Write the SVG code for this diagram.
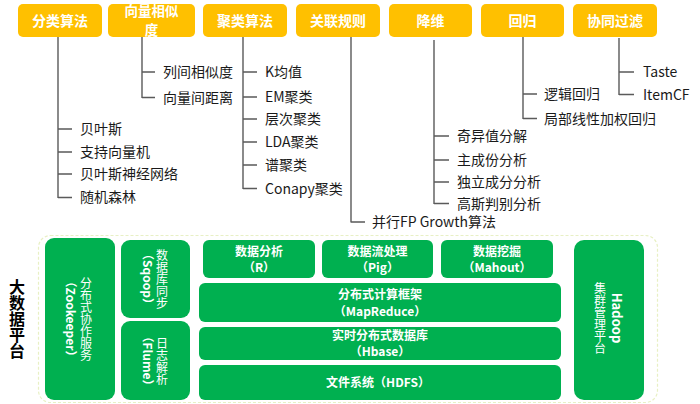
<svg xmlns="http://www.w3.org/2000/svg" width="700" height="404" viewBox="0 0 700 404">
<style>
text{font-family:"Noto Sans CJK SC","Microsoft YaHei","Noto Sans",sans-serif}
.hb{fill:#FFC000}
.ht{fill:#fff;font-size:14px;font-weight:bold;text-anchor:middle}
.ln{stroke:#5a5a5a;stroke-width:1.4;fill:none}
.it{fill:#1a1a1a;font-size:14px}
.gb{fill:#00B050}
.gt{fill:#fff;font-size:12px;font-weight:bold;text-anchor:middle}
.vt{fill:#fff;font-size:12px;writing-mode:vertical-rl;text-anchor:middle}
.lt{fill:#fff;font-size:12px;font-weight:bold;text-anchor:middle}
</style>
<rect width="700" height="404" fill="#fff"/>
<g id="connectors">
<path class="ln" d="M58 37V198M58 129H72M58 152H72M58 174H72M58 197.5H72"/>
<path class="ln" d="M142 37V98M142 72H155M142 97.5H155"/>
<path class="ln" d="M243 37V189M243 72H257M243 97H257M243 119H257M243 142H257M243 165H257M243 188.5H257"/>
<path class="ln" d="M351 37V222.5M351 222H365"/>
<path class="ln" d="M434 40V204M434 136H449M434 160H449M434 182H449M434 203.5H449"/>
<path class="ln" d="M523 37V119M523 94H537M523 118.5H537"/>
<path class="ln" d="M619 38V95M619 72H634M619 94.5H634"/>
</g>
<g id="h1"><rect class="hb" x="18" y="4" width="84" height="33" rx="5"/><text class="ht" x="60" y="25.5">分类算法</text></g>
<g id="h2"><rect class="hb" x="108" y="4" width="87" height="33" rx="5"/><text class="ht" x="151.5" y="16" style="font-size:13.5px">向量相似</text><text class="ht" x="151.5" y="35" style="font-size:13.5px">度</text></g>
<g id="h3"><rect class="hb" x="203" y="4" width="84" height="33" rx="5"/><text class="ht" x="245" y="25.5">聚类算法</text></g>
<g id="h4"><rect class="hb" x="296" y="4" width="84" height="33" rx="5"/><text class="ht" x="338" y="25.5">关联规则</text></g>
<g id="h5"><rect class="hb" x="389" y="4" width="83" height="33" rx="5"/><text class="ht" x="430.5" y="25.5">降维</text></g>
<g id="h6"><rect class="hb" x="481" y="4" width="83" height="33" rx="5"/><text class="ht" x="522.5" y="25.5">回归</text></g>
<g id="h7"><rect class="hb" x="573" y="4" width="84" height="33" rx="5"/><text class="ht" x="615" y="25.5">协同过滤</text></g>
<g id="items">
<text class="it" x="80" y="134">贝叶斯</text>
<text class="it" x="80" y="157">支持向量机</text>
<text class="it" x="80" y="179">贝叶斯神经网络</text>
<text class="it" x="80" y="202">随机森林</text>
<text class="it" x="163" y="77">列间相似度</text>
<text class="it" x="163" y="102.5">向量间距离</text>
<text class="it" x="265" y="77">K均值</text>
<text class="it" x="265" y="102">EM聚类</text>
<text class="it" x="265" y="124">层次聚类</text>
<text class="it" x="265" y="147">LDA聚类</text>
<text class="it" x="265" y="170">谱聚类</text>
<text class="it" x="265" y="193.5">Conapy聚类</text>
<text class="it" x="372" y="227">并行FP Growth算法</text>
<text class="it" x="457" y="141">奇异值分解</text>
<text class="it" x="457" y="165">主成份分析</text>
<text class="it" x="457" y="187">独立成分分析</text>
<text class="it" x="457" y="208.5">高斯判别分析</text>
<text class="it" x="544" y="99">逻辑回归</text>
<text class="it" x="544" y="124">局部线性加权回归</text>
<text class="it" x="643" y="77">Taste</text>
<text class="it" x="643" y="100">ItemCF</text>
</g>
<g id="platform">
<rect x="38.5" y="235.5" width="619" height="167" rx="12" fill="none" stroke="#e8f0c4" stroke-width="1.2" stroke-dasharray="3 2"/>
<text x="17" y="319" style="font-size:16px;font-weight:bold;fill:#000;writing-mode:vertical-rl;text-anchor:middle">大数据平台</text>
</g>
<g id="zookeeper"><rect class="gb" x="45" y="238" width="70" height="162" rx="9"/>
<text class="vt" x="86" y="319">分布式协作服务</text>
<text class="lt" transform="translate(70 319) rotate(90)" y="4.5">（Zookeeper）</text></g>
<g id="sqoop"><rect class="gb" x="121" y="240" width="69" height="78" rx="9"/>
<text class="vt" x="162" y="279">数据库同步</text>
<text class="lt" transform="translate(147 279) rotate(90)" y="4.5">（Sqoop）</text></g>
<g id="flume"><rect class="gb" x="121" y="321" width="69" height="79" rx="9"/>
<text class="vt" x="162" y="361">日志解析</text>
<text class="lt" transform="translate(147 361) rotate(90)" y="4.5">（Flume）</text></g>
<g id="r"><rect class="gb" x="203" y="240" width="112" height="38" rx="6"/>
<text class="gt" x="259" y="256">数据分析</text><text class="gt" x="259" y="272">（R）</text></g>
<g id="pig"><rect class="gb" x="322" y="240" width="111" height="38" rx="6"/>
<text class="gt" x="377.5" y="256">数据流处理</text><text class="gt" x="377.5" y="272">（Pig）</text></g>
<g id="mahout"><rect class="gb" x="441" y="240" width="112" height="38" rx="6"/>
<text class="gt" x="497" y="256">数据挖掘</text><text class="gt" x="497" y="272">（Mahout）</text></g>
<g id="mapreduce"><rect class="gb" x="199" y="283" width="362" height="39" rx="6"/>
<text class="gt" x="380" y="299">分布式计算框架</text><text class="gt" x="380" y="315.5">（MapReduce）</text></g>
<g id="hbase"><rect class="gb" x="199" y="327" width="362" height="33" rx="6"/>
<text class="gt" x="380" y="340">实时分布式数据库</text><text class="gt" x="380" y="356">（Hbase）</text></g>
<g id="hdfs"><rect class="gb" x="199" y="365" width="362" height="35" rx="6"/>
<text class="gt" x="378" y="386.5">文件系统（HDFS）</text></g>
<g id="hadoop"><rect class="gb" x="574" y="240" width="70" height="160" rx="10"/>
<text class="lt" transform="translate(616 318) rotate(90)" y="4.5" style="font-size:13px">Hadoop</text>
<text class="vt" x="600" y="318">集群管理平台</text></g>
</svg>
